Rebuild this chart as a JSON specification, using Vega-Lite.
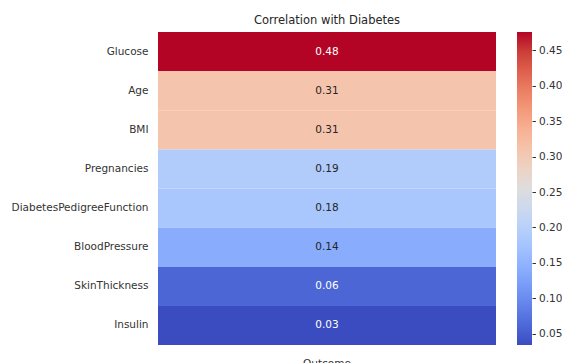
{
  "$schema": "https://vega.github.io/schema/vega-lite/v6.json",
  "background": "white",
  "padding": {"left": 11, "top": 14, "right": 0, "bottom": 0},
  "config": {
    "font": "DejaVu Sans",
    "view": {"stroke": null},
    "concat": {"spacing": 21}
  },
  "data": {
    "values": [
      {"feature": "Glucose", "column": "Outcome", "value": 0.476},
      {"feature": "Age", "column": "Outcome", "value": 0.31},
      {"feature": "BMI", "column": "Outcome", "value": 0.31},
      {"feature": "Pregnancies", "column": "Outcome", "value": 0.19},
      {"feature": "DiabetesPedigreeFunction", "column": "Outcome", "value": 0.18},
      {"feature": "BloodPressure", "column": "Outcome", "value": 0.14},
      {"feature": "SkinThickness", "column": "Outcome", "value": 0.06},
      {"feature": "Insulin", "column": "Outcome", "value": 0.034}
    ]
  },
  "hconcat": [
    {
      "width": 338,
      "height": 313,
      "title": {"text": "Correlation with Diabetes", "fontSize": 11.5, "fontWeight": "normal", "color": "#262626", "offset": 6},
      "encoding": {
        "x": {"field": "column", "type": "nominal", "title": null,
              "axis": {"labelAngle": 0, "ticks": false, "domain": false, "labelPadding": 13, "labelFontSize": 10.5, "labelColor": "#333333"}},
        "y": {"field": "feature", "type": "nominal", "title": null,
              "sort": ["Glucose", "Age", "BMI", "Pregnancies", "DiabetesPedigreeFunction", "BloodPressure", "SkinThickness", "Insulin"],
              "axis": {"ticks": false, "domain": false, "labelPadding": 10, "labelFontSize": 10.5, "labelColor": "#333333", "labelLimit": 300}}
      },
      "layer": [
        {
          "mark": {"type": "rect"},
          "encoding": {
            "color": {"field": "value", "type": "quantitative", "legend": null,
              "scale": {"interpolate": "rgb", "range": ["#3b4cc0", "#4d68d7", "#6282ea", "#779af7", "#8db0fe", "#a3c2ff", "#b8d0f9", "#ccd9ee", "#dddddd", "#ecd3c5", "#f5c4ac", "#f7b194", "#f49a7b", "#ec7f63", "#de604d", "#cb3e38", "#b40426"]}}
          }
        },
        {
          "mark": {"type": "text", "fontSize": 10.5},
          "encoding": {
            "text": {"field": "value", "type": "quantitative", "format": ".2f"},
            "color": {"condition": {"test": "datum.value > 0.4 || datum.value < 0.1", "value": "#ffffff"}, "value": "#262626"}
          }
        }
      ]
    },
    {
      "width": 15,
      "height": 313,
      "mark": {
        "type": "rect",
        "color": {
          "gradient": "linear", "x1": 0, "y1": 1, "x2": 0, "y2": 0,
          "stops": [
            {"offset": 0, "color": "#3b4cc0"}, {"offset": 0.0625, "color": "#4d68d7"},
            {"offset": 0.125, "color": "#6282ea"}, {"offset": 0.1875, "color": "#779af7"},
            {"offset": 0.25, "color": "#8db0fe"}, {"offset": 0.3125, "color": "#a3c2ff"},
            {"offset": 0.375, "color": "#b8d0f9"}, {"offset": 0.4375, "color": "#ccd9ee"},
            {"offset": 0.5, "color": "#dddddd"}, {"offset": 0.5625, "color": "#ecd3c5"},
            {"offset": 0.625, "color": "#f5c4ac"}, {"offset": 0.6875, "color": "#f7b194"},
            {"offset": 0.75, "color": "#f49a7b"}, {"offset": 0.8125, "color": "#ec7f63"},
            {"offset": 0.875, "color": "#de604d"}, {"offset": 0.9375, "color": "#cb3e38"},
            {"offset": 1, "color": "#b40426"}
          ]
        }
      },
      "encoding": {
        "x": {"value": 0},
        "x2": {"value": 15},
        "y": {"aggregate": "min", "field": "value", "type": "quantitative", "title": null,
              "scale": {"zero": false, "nice": false},
              "axis": {"orient": "right", "values": [0.05, 0.1, 0.15, 0.2, 0.25, 0.3, 0.35, 0.4, 0.45], "format": ".2f",
                       "domain": false, "grid": false, "tickSize": 3.5, "tickColor": "#333333", "tickWidth": 1,
                       "labelPadding": 3, "labelFontSize": 10.5, "labelColor": "#333333"}},
        "y2": {"aggregate": "max", "field": "value"}
      }
    }
  ]
}
